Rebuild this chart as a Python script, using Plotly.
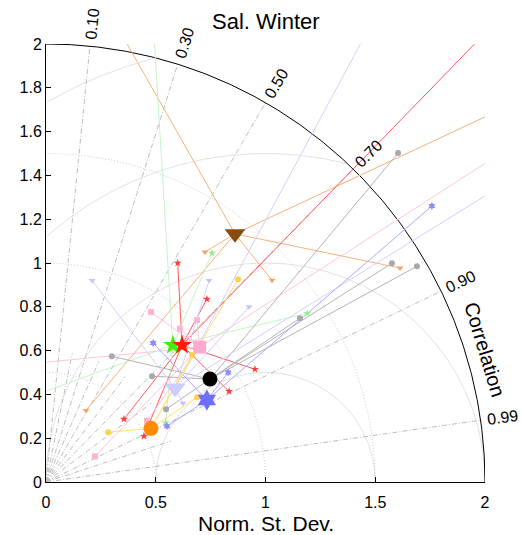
import numpy as np
import plotly.graph_objects as go

# ---------------- text ----------------
title_text = "Sal. Winter"
x_title_text = "Norm. St. Dev."
corr_title_text = "Correlation"

# ---------------- axes / grid values ----------------
x_ticks = [0, 0.5, 1, 1.5, 2]
y_ticks = [0, 0.2, 0.4, 0.6, 0.8, 1.0, 1.2, 1.4, 1.6, 1.8, 2.0]
corr_labeled = [0.10, 0.30, 0.50, 0.70, 0.90, 0.99]
corr_unlabeled = [0.20, 0.40, 0.60, 0.80, 0.95]
std_arcs = [0.5, 1.0, 1.5]
rms_arcs = [0.5, 1.0, 1.5, 2.0]
std_max = 2.0

# ---------------- data (x = std*corr, y = std*sin(acos(corr))) ----------------
brown_center = [0.861, 1.133]
brown_x = [0.33, 2.07, 1.613, 1.03, 0.724, 0.182]
brown_y = [2.07, 1.70, 0.977, 0.921, 1.05, 0.327]

red_center = [0.62, 0.625]
red_x = [2.03, 0.60, 0.733, 0.952, 0.834, 0.355, 0.446]
red_y = [2.08, 1.00, 0.835, 0.515, 0.414, 0.287, 0.209]

green_center = [0.578, 0.625]
green_x = [0.49, 0.756, -0.07, 1.19, 0.545]
green_y = [2.07, 1.045, 0.39, 0.77, 0.27]

pink_center = [0.70, 0.616]
pink_x = [-0.073, 0.478, 0.223, 0.61, 0.688, 2.07, 0.46]
pink_y = [0.54, 0.776, 0.117, 0.70, 0.739, 1.50, 0.28]

black_center = [0.747, 0.47]
black_x = [1.604, 1.576, 1.69, 1.157, 0.30, 0.483, 0.547]
black_y = [1.502, 0.999, 0.985, 0.748, 0.574, 0.483, 0.332]

lavender_center = [0.588, 0.428]
lavender_x = [0.21, 0.743, 0.925, 0.624, 2.07, 1.47]
lavender_y = [0.92, 0.92, 0.80, 0.36, 1.35, 2.07]

blue_center = [0.733, 0.374]
blue_x = [0.488, 0.83, 0.551, 1.758]
blue_y = [0.635, 0.50, 0.255, 1.26]

orange_center = [0.478, 0.245]
orange_x = [0.283, 0.688, 0.875, 0.665]
orange_y = [0.227, 0.387, 0.926, 0.58]

# ---------------- styles ----------------
groups = [
    # center, xs, ys, line colour, small colour, big colour, symbol, big size
    (brown_center, brown_x, brown_y, "#f5b27c", "#f4a468", "#8b4a0e", "triangle-down", 18),
    (red_center, red_x, red_y, "#ff5a5a", "#ff3c3c", "#ff1a00", "star", 15),
    (green_center, green_x, green_y, "#c4f5c4", "#99ee88", "#44ee00", "star", 15),
    (pink_center, pink_x, pink_y, "#ffc4e0", "#ffb4d4", "#ffaacc", "square", 13),
    (black_center, black_x, black_y, "#b4b4b4", "#a8a8a8", "#000000", "circle", 15),
    (lavender_center, lavender_x, lavender_y, "#d0d0ff", "#c4c4ff", "#ccccff", "triangle-down", 18),
    (blue_center, blue_x, blue_y, "#aaaaff", "#8c8cff", "#6e6eff", "hexagram", 16),
    (orange_center, orange_x, orange_y, "#ffe07a", "#ffd24a", "#ff8c00", "circle", 15),
]
big_order = [0, 5, 4, 6, 3, 2, 1, 7]

font_family = "Arial, Liberation Sans, Helvetica, sans-serif"
spoke_dash = "5px,2px,1px,2px"

fig = go.Figure()

# RMS arcs around the reference point (1, 0), clipped to std <= 2
for R in rms_arcs:
    t = np.linspace(0, np.pi, 600)
    xx = 1 + R * np.cos(t)
    yy = R * np.sin(t)
    m = (xx ** 2 + yy ** 2 <= std_max ** 2 + 1e-9) & (xx >= 0)
    fig.add_trace(go.Scatter(x=xx[m], y=yy[m], mode="lines",
                             line=dict(color="#e2e2e2", width=1),
                             hoverinfo="skip", showlegend=False))

# std arcs (dotted)
th = np.linspace(0, np.pi / 2, 300)
for r in std_arcs:
    fig.add_trace(go.Scatter(x=r * np.cos(th), y=r * np.sin(th), mode="lines",
                             line=dict(color="#cccccc", width=1, dash="1px,2px"),
                             hoverinfo="skip", showlegend=False))

# correlation spokes
for c in corr_labeled:
    a = np.arccos(c)
    fig.add_trace(go.Scatter(x=[0, std_max * np.cos(a)], y=[0, std_max * np.sin(a)],
                             mode="lines", line=dict(color="#bdbdbd", width=1, dash=spoke_dash),
                             hoverinfo="skip", showlegend=False))
for c in corr_unlabeled:
    a = np.arccos(c)
    fig.add_trace(go.Scatter(x=[0, 0.6 * np.cos(a)], y=[0, 0.6 * np.sin(a)],
                             mode="lines", line=dict(color="#bdbdbd", width=1, dash=spoke_dash),
                             hoverinfo="skip", showlegend=False))

# outer arc
fig.add_trace(go.Scatter(x=std_max * np.cos(th), y=std_max * np.sin(th), mode="lines",
                         line=dict(color="#000000", width=1),
                         hoverinfo="skip", showlegend=False))

# member lines
for center, xs, ys, lc, sc, bc, sym, bs in groups:
    lx, ly = [], []
    for x, y in zip(xs, ys):
        lx += [center[0], x, None]
        ly += [center[1], y, None]
    fig.add_trace(go.Scatter(x=lx, y=ly, mode="lines", line=dict(color=lc, width=1),
                             hoverinfo="skip", showlegend=False))

# member markers
for center, xs, ys, lc, sc, bc, sym, bs in groups:
    fig.add_trace(go.Scatter(x=xs, y=ys, mode="markers",
                             marker=dict(symbol=sym, size=6, color=sc, line=dict(width=0)),
                             showlegend=False))

# big markers
for i in big_order:
    center, xs, ys, lc, sc, bc, sym, bs = groups[i]
    fig.add_trace(go.Scatter(x=[center[0]], y=[center[1]], mode="markers",
                             marker=dict(symbol=sym, size=bs, color=bc, line=dict(width=0)),
                             showlegend=False))

# annotations are placed in paper coordinates (axis range is 0..2 on both axes)
annotations = []
for c in corr_labeled:
    a = np.arccos(c)
    r = 2.1
    annotations.append(dict(x=r * np.cos(a) / std_max, y=r * np.sin(a) / std_max,
                            xref="paper", yref="paper",
                            text=f"{c:.2f}", showarrow=False, textangle=-np.degrees(a),
                            font=dict(size=16, color="black", family=font_family),
                            xanchor="center", yanchor="middle"))
ca = np.radians(16.8)
annotations.append(dict(x=2.09 * np.cos(ca) / std_max, y=2.09 * np.sin(ca) / std_max,
                        xref="paper", yref="paper",
                        text=corr_title_text, showarrow=False, textangle=90 - 16.8,
                        font=dict(size=20, color="black", family=font_family),
                        xanchor="center", yanchor="middle"))
annotations.append(dict(x=0.5, y=1.051, xref="paper", yref="paper", text=title_text,
                        showarrow=False, font=dict(size=22, color="black", family=font_family),
                        xanchor="center", yanchor="middle"))
annotations.append(dict(x=0.5, y=-0.094, xref="paper", yref="paper", text=x_title_text,
                        showarrow=False, font=dict(size=21, color="black", family=font_family),
                        xanchor="center", yanchor="middle"))

fig.update_layout(
    width=522, height=535,
    margin=dict(l=46, r=37, t=44, b=53),
    paper_bgcolor="white", plot_bgcolor="white",
    showlegend=False,
    annotations=annotations,
    font=dict(family=font_family, size=16, color="black"),
    xaxis=dict(range=[0, 2], tickvals=x_ticks, ticktext=[f"{v:g}" for v in x_ticks],
               showgrid=False, zeroline=False, showline=True, linecolor="black", linewidth=1,
               ticks="inside", ticklen=5, tickcolor="black", tickfont=dict(size=16),
               ticklabelstandoff=6, fixedrange=True),
    yaxis=dict(range=[0, 2], tickvals=y_ticks, ticktext=[f"{v:g}" for v in y_ticks],
               showgrid=False, zeroline=False, showline=True, linecolor="black", linewidth=1,
               ticks="inside", ticklen=5, tickcolor="black", tickfont=dict(size=16),
               fixedrange=True),
)

fig.write_html("out.html")
